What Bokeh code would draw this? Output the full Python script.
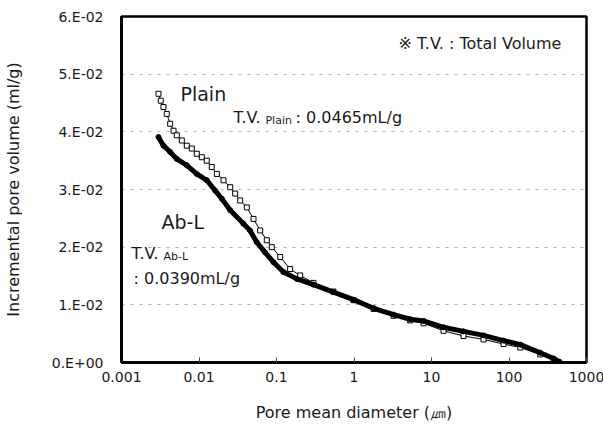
from bokeh.plotting import figure
from bokeh.models import Range1d, FixedTicker, Label
from bokeh.embed import file_html
from bokeh.resources import INLINE

# Plain series (pore mean diameter in um, incremental pore volume in ml/g)
plain_x = [0.0030, 0.00321, 0.00348, 0.00384, 0.00425, 0.00469, 0.00517, 0.0060, 0.00696,
           0.00807, 0.00937, 0.01087, 0.0126, 0.0146, 0.0170, 0.0207, 0.0253, 0.0293, 0.0340,
           0.0414, 0.0505, 0.0616, 0.0750, 0.0869, 0.1116, 0.150, 0.202, 0.300, 0.543, 0.986,
           1.79, 3.24, 5.31, 7.9, 14.3, 25.9, 46.9, 84.9, 140, 253, 375, 440]
plain_y = [0.0466, 0.0454, 0.0443, 0.0431, 0.0414, 0.0402, 0.0394, 0.0385, 0.0376,
           0.0371, 0.0362, 0.0356, 0.0350, 0.0339, 0.0327, 0.0316, 0.0304, 0.0293, 0.0281,
           0.0269, 0.0249, 0.0229, 0.0212, 0.0200, 0.0183, 0.0162, 0.0151, 0.0138, 0.0123, 0.0108,
           0.0093, 0.0081, 0.0073, 0.0068, 0.0055, 0.0046, 0.0040, 0.0032, 0.0026, 0.0014, 0.0005, 0.0000]

# Ab-L series
abl_x = [0.0030, 0.00348, 0.00425, 0.00517, 0.00696, 0.00937, 0.0126, 0.0162, 0.0197, 0.0253,
         0.0373, 0.0455, 0.0554, 0.0711, 0.0914, 0.123, 0.183, 0.300, 0.543, 0.986,
         1.79, 3.24, 5.31, 7.9, 14.3, 25.9, 46.9, 84.9, 140, 253, 375, 450]
abl_y = [0.0391, 0.0376, 0.0365, 0.0353, 0.0342, 0.0327, 0.0316, 0.0298, 0.0284, 0.0264,
         0.0241, 0.0229, 0.0209, 0.0191, 0.0174, 0.0157, 0.0145, 0.0135, 0.0122, 0.0109,
         0.0094, 0.0083, 0.0075, 0.0072, 0.0061, 0.0054, 0.0047, 0.0038, 0.0031, 0.0017, 0.0007, 0.0001]

x_ticks = [0.001, 0.01, 0.1, 1, 10, 100, 1000]
x_tick_labels = ["0.001", "0.01", "0.1", "1", "10", "100", "1000"]
y_ticks = [0.0, 0.01, 0.02, 0.03, 0.04, 0.05, 0.06]
y_tick_labels = ["0.E+00", "1.E-02", "2.E-02", "3.E-02", "4.E-02", "5.E-02", "6.E-02"]

FONT = "DejaVu Sans"
TXT = "#1a1a1a"

p = figure(x_axis_type="log", x_range=Range1d(0.001, 1000), y_range=Range1d(0, 0.06),
           frame_width=465, frame_height=346,
           min_border_left=118, min_border_right=20, min_border_top=16, min_border_bottom=63,
           output_backend="svg", toolbar_location=None)
p.background_fill_color = "white"
p.border_fill_color = "white"
p.outline_line_color = "black"
p.outline_line_width = 2.5

p.xgrid.visible = False
p.ygrid.ticker = FixedTicker(ticks=[0.01, 0.02, 0.03, 0.04, 0.05])
p.ygrid.grid_line_color = "#b0b0b0"
p.ygrid.grid_line_dash = "3 6"
p.ygrid.grid_line_width = 1

p.xaxis.ticker = FixedTicker(ticks=x_ticks)
p.xaxis.major_label_overrides = {t: l for t, l in zip(x_ticks, x_tick_labels)}
p.yaxis.ticker = FixedTicker(ticks=y_ticks)
p.yaxis.major_label_overrides = {t: l for t, l in zip(y_ticks, y_tick_labels)}

for ax in (p.xaxis[0], p.yaxis[0]):
    ax.axis_line_color = "black"
    ax.axis_line_width = 3
    ax.minor_tick_line_color = None
    ax.major_label_text_font = FONT
    ax.major_label_text_font_size = "14px"
    ax.major_label_text_color = TXT
    ax.axis_label_text_font = FONT
    ax.axis_label_text_font_size = "16px"
    ax.axis_label_text_font_style = "normal"
    ax.axis_label_text_color = TXT

p.xaxis.major_tick_in = 5
p.xaxis.major_tick_out = 0
p.xaxis.major_tick_line_color = "#444444"
p.xaxis.major_label_standoff = 9
p.xaxis.axis_label = "Pore mean diameter (㎛)"
p.xaxis.axis_label_standoff = 18

p.yaxis.major_tick_in = 0
p.yaxis.major_tick_out = 0
p.yaxis.major_label_standoff = 18
p.yaxis.axis_label = "Incremental pore volume (ml/g)"
p.yaxis.axis_label_standoff = 26

# Plain: thin line with open squares
p.line(plain_x, plain_y, line_color="black", line_width=1)
p.scatter(plain_x, plain_y, marker="square", size=5, fill_color="white",
          line_color="black", line_width=1)

# Ab-L: thick line with filled dots
p.line(abl_x, abl_y, line_color="black", line_width=5)
p.scatter(abl_x, abl_y, marker="circle", size=5, fill_color="black", line_color="black")

def lab(x, y, text, size, align="left"):
    p.add_layout(Label(x=x, y=y, text=text, text_font=FONT, text_font_size=size,
                       text_color=TXT, text_align=align, text_baseline="middle"))

lab(475, 0.0553, "※ T.V. : Total Volume", "16px", "right")
lab(0.00577, 0.0465, "Plain", "19px")
lab(0.0279, 0.0425, "T.V.", "16px")
lab(0.0721, 0.0419, "Plain", "11px")
lab(0.176, 0.0425, ": 0.0465mL/g", "16px")
lab(0.00328, 0.0243, "Ab-L", "19px")
lab(0.001346, 0.0189, "T.V.", "16px")
lab(0.00348, 0.0184, "Ab-L", "11px")
lab(0.00143, 0.0146, ": 0.0390mL/g", "16px")

open("out.html", "w").write(file_html(p, INLINE))
